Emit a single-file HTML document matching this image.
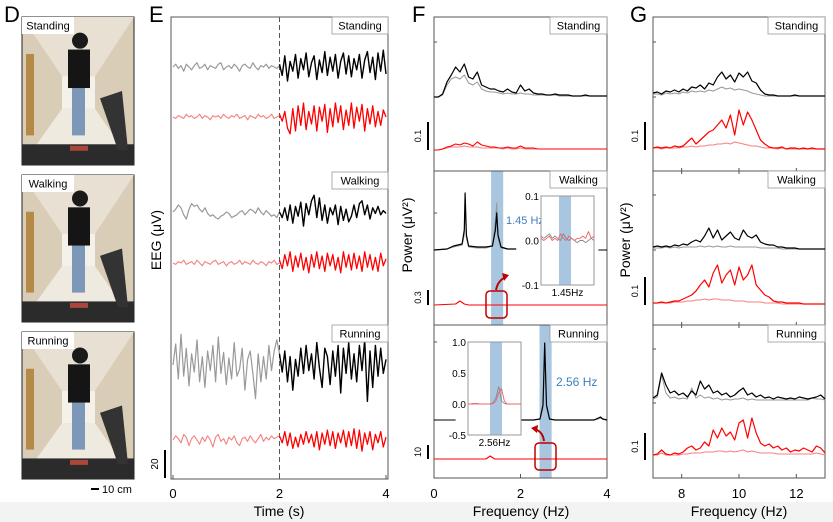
<!DOCTYPE html>
<html><head><meta charset="utf-8">
<style>
body{margin:0;background:#fff;width:833px;height:522px;overflow:hidden;font-family:"Liberation Sans",sans-serif}
svg{display:block}
text{font-family:"Liberation Sans",sans-serif}
</style></head>
<body>
<svg id="fig" width="833" height="522" viewBox="0 0 833 522" xmlns="http://www.w3.org/2000/svg">
<rect x="0" y="0" width="833" height="500" fill="#fff"/>
<rect x="0" y="502" width="833" height="20" fill="#f3f3f3"/>
<text x="4" y="22" font-size="22">D</text>
<text x="149" y="22" font-size="22">E</text>
<text x="412" y="22" font-size="22">F</text>
<text x="630" y="22" font-size="22">G</text>
<g id="photos"></g>
<g id="E"></g><g id="F"></g><g id="G"></g>
</svg>
<script>
// ===== Panel E data (µV), 41 samples per 2 s segment =====
const eTimes=[0,0.05,0.1,0.15,0.2,0.25,0.3,0.35,0.4,0.45,0.5,0.55,0.6,0.65,0.7,0.75,0.8,0.85,0.9,0.95,1,1.05,1.1,1.15,1.2,1.25,1.3,1.35,1.4,1.45,1.5,1.55,1.6,1.65,1.7,1.75,1.8,1.85,1.9,1.95,2];
const eStandPre=[0,2,-1,1,-3,2,0,-2,1,3,-1,0,2,-2,1,0,-1,2,3,-2,0,1,-1,2,0,-3,1,2,0,-1,3,0,-2,1,0,2,-1,1,0,-1,1];
const eStandPost=[2,-6,8,-10,4,-3,9,-8,6,-2,10,-7,3,8,-9,5,-4,11,-6,7,-3,9,-8,4,10,-5,8,-7,6,-2,9,-8,5,11,-4,7,-9,10,-3,12,-5];
const eStandRedPre=[0,-1,1,0,-1,2,0,1,-1,0,2,-1,1,0,-2,1,0,1,-1,2,0,-1,1,0,2,-1,0,1,-2,1,0,-1,2,0,1,-1,0,2,-1,0,1];
const eStandRedPost=[2,-3,4,-8,-12,6,-10,8,-6,10,-9,4,-5,8,-10,7,-3,9,-11,6,-7,10,-4,8,-9,5,-6,10,-8,7,-3,9,-10,6,-5,8,-7,4,-6,5,0];
const eWalkPre=[0,2,5,3,-2,-5,2,6,4,5,2,0,3,-1,-3,-2,-4,-5,-3,-2,0,-1,-4,-3,-2,0,1,-2,0,2,1,-1,3,0,-2,1,-1,-3,-2,-4,0];
const eWalkPost=[0,-4,3,-6,5,-8,4,-3,7,-10,6,-2,8,12,-4,10,-6,5,-8,3,-2,5,-9,4,-6,2,-7,-3,5,-4,6,8,-2,5,-5,3,-1,4,-2,1,-1];
const eWalkRedPre=[0,-1,1,0,2,-1,0,1,-1,2,0,-2,1,0,-1,1,2,-1,0,1,-2,0,1,-1,0,2,-1,1,0,-1,2,0,-1,1,0,-2,1,0,2,-1,0];
const eWalkRedPost=[2,-4,6,-2,8,-6,5,-3,7,-5,4,-7,6,-3,8,-4,5,-6,7,-2,6,-5,4,-7,8,-3,6,-5,7,-4,5,-6,8,-3,6,-5,4,-6,7,-2,3];
const eRunPre=[0,15,-10,22,-8,12,-15,8,-5,18,-12,6,-16,10,-4,14,-12,20,-6,9,-14,5,-10,16,-8,-3,12,-18,4,10,-6,-24,8,-12,6,-10,14,-4,10,18,8];
const eRunPost=[8,-5,10,-12,6,-18,4,-8,12,-6,14,-4,8,-10,16,-2,-16,12,6,-14,10,-8,14,-20,12,-6,16,-10,8,-12,14,-4,18,-26,10,-16,14,-8,12,-6,4];
const eRunRedPre=[0,3,1,-2,4,2,-4,1,3,0,-3,2,-1,3,0,-5,2,4,-1,1,-3,2,0,3,-2,-4,1,2,-1,3,0,-2,1,4,-1,2,0,3,1,2,3];
const eRunRedPost=[3,-2,6,-4,5,-6,2,-5,4,-3,6,-2,4,-5,6,-7,5,-3,7,-4,6,-6,5,-2,7,-5,6,-4,8,-6,7,-8,5,-3,6,-7,4,-2,6,-5,2];
const eTickLabels=[0,2,4];

// ===== Panel F data (a.u.) =====
const fFreqs=[0,0.1,0.2,0.3,0.4,0.5,0.6,0.7,0.8,0.9,1,1.1,1.2,1.3,1.4,1.5,1.6,1.7,1.8,1.9,2,2.1,2.2,2.3,2.4,2.5,2.6,2.7,2.8,2.9,3,3.1,3.2,3.3,3.4,3.5,3.6,3.7,3.8,3.9,4];
const fStandBlack=[0,0,3,15,22,30,25,33,20,18,25,12,10,8,8,6,5,8,5,4,12,6,8,4,3,3,2,2,3,2,2,2,1,1,1,2,1,1,1,1,1];
const fStandGray=[0,0,2,12,18,20,18,22,14,12,15,8,6,5,5,4,3,4,3,3,4,3,3,2,2,2,2,2,2,1,1,1,1,1,1,1,1,1,1,1,1];
const fStandRed=[0,0,1,3,4,6,5,7,6,4,8,5,4,3,3,2,2,3,2,2,4,2,2,2,1,1,1,1,1,1,1,1,1,1,1,1,1,1,1,1,1];
const fStandLight=[0,0,1,2,3,3,3,4,3,3,3,2,2,2,2,2,1,2,1,1,2,1,1,1,1,1,1,1,1,1,1,1,1,1,1,1,1,1,1,1,1];
const fWalkFreq=[0,0.3,0.45,0.55,0.65,0.7,0.72,0.75,0.8,1.0,1.2,1.35,1.42,1.45,1.48,1.55,1.7,1.9];
const fWalkBlack=[0,1,4,5,6,20,57,15,4,3,3,4,20,37,15,3,1,1];
const fWalkGray=[0,1,3,4,5,15,45,12,3,2,2,4,30,47,12,2,1,1];
const fWalkRedFreq=[0,0.5,0.6,0.7,0.8,1.0,4];
const fWalkRed=[0,1,4,1,0,0,0];
const fRunFreq=[2.0,2.3,2.45,2.52,2.56,2.6,2.67,2.8,3.7,3.8,3.85,3.9,4];
const fRunBlack=[0,0,1,15,77,15,1,0,0,2,3,1,0];
const fRunGray=[0,0,1,12,68,12,1,0,0,1,2,1,0];
const fRunRedFreq=[0,1.2,1.3,1.4,4];
const fRunRed=[0,0,3,0,0];
const fTickLabels=[0,2,4];
// insets
const insWalkX=[0,1,2,3,4,5,6,7,8,9,10,11,12,13,14,15,16,17,18,19];
const insWalkGray=[0.01,0.005,0.01,0.015,0.005,0.01,0.005,0.0,0.015,0.005,0.0,0.005,0.0,-0.005,0.0,0.0,-0.005,0.0,0.005,0.0];
const insWalkRed=[0.005,0.0,0.005,0.01,0.0,0.005,0.0,0.015,0.005,0.0,0.01,0.005,0.0,0.005,0.005,0.01,0.005,0.02,0.005,0.01];
const insWalkTicks=[0.1,0.0,-0.1];
const insRunX=[0,1,2,3,4,5,6,7,8,9,10,11,12,13,14,15,16,17,18,19];
const insRunGray=[0,0,0,0.01,0,0,0,0,0,0.02,0.1,0.28,0.05,0.01,0,0,0,0,0,0];
const insRunRed=[0,0,0.01,0,0,0,0,0,0,0.01,0.05,0.18,0.25,0.05,0,0,0,0,0,0];
const insRunTicks=[1.0,0.5,0.0,-0.5];

// ===== Panel G data (a.u.) =====
const gFreqs=[7,7.15,7.3,7.45,7.6,7.75,7.9,8.05,8.2,8.35,8.5,8.65,8.8,8.95,9.1,9.25,9.4,9.55,9.7,9.85,10,10.15,10.3,10.45,10.6,10.75,10.9,11.05,11.2,11.35,11.5,11.65,11.8,11.95,12.1,12.25,12.4,12.55,12.7,12.85,13];
const gStandBlack=[4,5,3,6,5,7,5,8,6,10,9,12,8,14,12,20,25,18,22,15,24,20,25,16,14,7,3,2,2,1,1,1,1,2,1,1,1,1,1,1,1];
const gStandGray=[3,3,2,4,3,4,3,5,4,6,5,6,5,7,6,8,10,8,9,7,8,7,6,4,3,2,1,1,1,1,1,1,1,1,1,1,1,1,1,1,1];
const gStandRed=[2,3,2,3,2,4,3,4,8,12,6,10,14,18,20,25,30,22,35,15,40,25,38,30,20,10,6,3,2,2,3,1,2,2,1,2,1,2,1,1,1];
const gStandLight=[2,2,1,2,2,2,2,3,3,4,3,4,4,5,5,6,6,7,6,8,7,6,5,4,4,3,2,2,2,1,2,1,1,1,1,1,1,1,1,1,1];
const gWalkBlack=[3,4,3,4,3,5,4,6,5,8,10,8,14,22,12,20,10,14,18,12,10,20,14,12,15,8,6,5,5,3,3,2,2,2,1,1,1,1,1,1,1];
const gWalkGray=[2,2,2,3,2,3,2,3,3,3,3,4,3,4,3,4,3,3,4,3,3,3,3,3,3,2,2,2,2,2,1,1,1,1,1,1,1,1,1,1,1];
const gWalkRed=[2,2,3,2,3,4,4,6,8,10,14,20,25,18,32,40,22,30,35,20,38,25,30,40,20,15,10,8,4,3,3,2,2,2,2,1,1,1,1,1,1];
const gWalkLight=[2,2,2,2,2,3,3,3,4,4,5,5,6,5,6,6,5,5,5,4,4,4,3,3,3,3,2,2,2,2,1,1,1,1,1,1,1,1,1,1,1];
const gRunBlack=[5,8,30,18,10,12,8,10,6,12,8,22,14,18,10,12,8,10,6,8,12,15,8,10,6,8,5,6,4,6,5,4,5,4,6,5,4,5,6,8,4];
const gRunGray=[4,6,28,10,5,6,4,5,4,15,5,8,5,6,4,5,3,4,3,4,4,5,3,4,3,3,3,3,3,3,3,3,3,3,3,3,3,5,4,4,3];
const gRunRed=[3,4,8,4,3,5,4,6,10,12,8,10,16,12,28,20,30,22,26,18,35,38,20,40,25,15,12,14,10,12,8,10,6,8,7,10,8,6,12,10,5];
const gRunLight=[3,3,5,3,3,3,3,4,4,5,5,5,6,6,6,7,7,6,7,6,7,8,6,7,6,5,5,5,5,4,4,4,4,4,4,4,4,4,5,4,3];
const gTickLabels=[8,10,12];

const NS='http://www.w3.org/2000/svg';
function mk(parent,tag,attrs,txt){const e=document.createElementNS(NS,tag);for(const k in attrs)e.setAttribute(k,attrs[k]);if(txt!==undefined)e.textContent=txt;parent.appendChild(e);return e;}
function line(parent,xs,ys,fx,fy,color,w,name){
  const pts=xs.map((x,i)=>fx(x).toFixed(1)+','+fy(ys[i]).toFixed(1)).join(' ');
  const p=mk(parent,'polyline',{points:pts,fill:'none',stroke:color,'stroke-width':w,'stroke-linejoin':'round'});
  
  
  return p;
}
function legendBox(parent,x,y,w,label,name){
  const g=mk(parent,'g',{});
  
  
  mk(g,'rect',{x:x,y:y,width:w,height:17,fill:'#fff',stroke:'#999','stroke-width':0.8});
  mk(g,'text',{x:x+w/2,y:y+12.5,'font-size':11,'text-anchor':'middle'},label);
}
function vtext(parent,x,y,s,size,name){
  const t=mk(parent,'text',{x:x,y:y,'font-size':size,'text-anchor':'middle',transform:`rotate(-90 ${x} ${y})`},s);
  
  
  return t;
}

// ===== Photos =====
const ph=document.getElementById('photos');
[['Standing',17,165],['Walking',175,322],['Running',332,479]].forEach(([lab,y0,y1],k)=>{
  const g=mk(ph,'g',{});
  
  
  const h=y1-y0;
  mk(g,'rect',{x:22,y:y0,width:112,height:h,fill:'#d9cdb8',stroke:'#222','stroke-width':1});
  mk(g,'polygon',{points:`22,${y0} 134,${y0} 95,${y0+h*0.4} 62,${y0+h*0.4}`,fill:'#e8e1d3'});
  mk(g,'polygon',{points:`22,${y1} 134,${y1} 95,${y0+h*0.62} 62,${y0+h*0.62}`,fill:'#efeae0'});
  mk(g,'rect',{x:62,y:y0+h*0.4,width:33,height:h*0.22,fill:'#f4f1ea'});
  mk(g,'rect',{x:26,y:y0+h*0.25,width:8,height:h*0.55,fill:'#b58a47'});
  mk(g,'rect',{x:22,y:y1-h*0.14,width:112,height:h*0.14,fill:'#2b2b2b'});
  mk(g,'polygon',{points:`100,${y0+h*0.55} 122,${y0+h*0.5} 128,${y1-h*0.1} 118,${y1-h*0.1}`,fill:'#333'});
  mk(g,'rect',{x:72,y:y0+h*0.42,width:13,height:h*0.38,fill:'#7d97b8'});
  mk(g,'rect',{x:68,y:y0+h*0.22,width:22,height:h*0.26,fill:'#151515'});
  mk(g,'circle',{cx:80,cy:y0+h*0.16,r:8,fill:'#1a1a1a'});
  mk(g,'rect',{x:70,y:y1-h*0.13,width:18,height:5,fill:'#a9473a'});
  mk(g,'rect',{x:22,y:y0,width:52,height:17,fill:'#fff'});
  mk(g,'text',{x:48,y:y0+12.5,'font-size':11,'text-anchor':'middle'},lab);
});
const sb=mk(ph,'g',{});


mk(sb,'line',{x1:91,y1:489,x2:99,y2:489,stroke:'#000','stroke-width':2});
mk(sb,'text',{x:102,y:493,'font-size':11},'10 cm');

// ===== Panel E =====
const E=document.getElementById('E');
const eX0=171,eX1=388,eTop=17,eBot=479;
const ex=t=>173+(t/4)*(386-173);
const eScale=1.4;
mk(E,'rect',{x:eX0,y:eTop,width:eX1-eX0,height:eBot-eTop,fill:'none',stroke:'#555','stroke-width':1});
const eDash=mk(E,'line',{x1:ex(2),y1:eTop,x2:ex(2),y2:eBot,stroke:'#555','stroke-width':1,'stroke-dasharray':'5,3'});


const eRows=[
 ['standing',67,117,eStandPre,eStandPost,eStandRedPre,eStandRedPost],
 ['walking',212,263,eWalkPre,eWalkPost,eWalkRedPre,eWalkRedPost],
 ['running',365,440,eRunPre,eRunPost,eRunRedPre,eRunRedPost]];
eRows.forEach(([n,b1,b2,a,b,c,d])=>{
  const fy1=v=>b1-v*eScale, fy2=v=>b2-v*eScale;
  line(E,eTimes,a,ex,fy1,'#999',1.2,'eeg-'+n+'-before');
  line(E,eTimes,b,t=>ex(t+2),fy1,'#000',1.4,'eeg-'+n+'-after');
  line(E,eTimes,c,ex,fy2,'#f58080',1.1,'eeg-'+n+'-red-before');
  line(E,eTimes,d,t=>ex(t+2),fy2,'#ff0000',1.3,'eeg-'+n+'-red-after');
});
legendBox(E,332,17,56,'Standing','e-legend-standing');
legendBox(E,332,172,56,'Walking','e-legend-walking');
legendBox(E,332,325,56,'Running','e-legend-running');
eTickLabels.forEach(v=>{
  mk(E,'line',{x1:ex(v),y1:eBot,x2:ex(v),y2:eBot-4,stroke:'#555'});
  const t=mk(E,'text',{x:ex(v),y:498,'font-size':13,'text-anchor':'middle'},String(v));
  
  
});
const eXT=mk(E,'text',{x:279,y:516,'font-size':14,'text-anchor':'middle'},'Time (s)');


vtext(E,161,240,'EEG (μV)',14,'e-y-axis-title');
mk(E,'line',{x1:165,y1:450,x2:165,y2:478,stroke:'#000','stroke-width':2});
vtext(E,158,464,'20',10,'e-scale-label');

// ===== Panel F =====
const F=document.getElementById('F');
const fx=f=>434+(f/4)*(607-434);
const fTop=17,fBot=478;
const bw=mk(F,'rect',{x:fx(1.32),y:171,width:fx(1.6)-fx(1.32),height:154,fill:'#a9c6e0'});


const br=mk(F,'rect',{x:fx(2.44),y:325,width:fx(2.72)-fx(2.44),height:153,fill:'#a9c6e0'});


mk(F,'rect',{x:434,y:fTop,width:173,height:fBot-fTop,fill:'none',stroke:'#555'});
[171,325].forEach(y=>mk(F,'line',{x1:434,y1:y,x2:607,y2:y,stroke:'#555'}));
[42,97,213,250,342,420].forEach(y=>mk(F,'line',{x1:434,y1:y,x2:437,y2:y,stroke:'#555'}));
line(F,fFreqs,fStandGray,fx,v=>97-v,'#999',1,'f-standing-gray');
line(F,fFreqs,fStandBlack,fx,v=>97-v,'#000',1.2,'f-standing-black');
line(F,fFreqs,fStandLight,fx,v=>150-v,'#f58080',1,'f-standing-lightred');
line(F,fFreqs,fStandRed,fx,v=>150-v,'#ff0000',1.1,'f-standing-red');
line(F,fWalkFreq,fWalkGray,fx,v=>250-v,'#999',1,'f-walking-gray');
line(F,fWalkFreq,fWalkBlack,fx,v=>250-v,'#000',1.2,'f-walking-black');
mk(F,'line',{x1:fx(3.8),y1:250,x2:607,y2:250,stroke:'#000'});
line(F,fWalkRedFreq,fWalkRed,fx,v=>305-v,'#ff0000',1.1,'f-walking-red');
mk(F,'line',{x1:434,y1:420,x2:fx(0.5),y2:420,stroke:'#000'});
line(F,fRunFreq,fRunGray,fx,v=>420-v,'#999',1,'f-running-gray');
line(F,fRunFreq,fRunBlack,fx,v=>420-v,'#000',1.2,'f-running-black');
line(F,fRunRedFreq,fRunRed,fx,v=>459-v,'#ff0000',1.1,'f-running-red');
legendBox(F,550,17,57,'Standing','f-legend-standing');
legendBox(F,550,171,57,'Walking','f-legend-walking');
legendBox(F,550,325,57,'Running','f-legend-running');
const t145=mk(F,'text',{x:506,y:224,'font-size':11,fill:'#3d7fc0'},'1.45 Hz');


const t256=mk(F,'text',{x:556,y:386,'font-size':12,fill:'#3d7fc0'},'2.56 Hz');


[[486,291,'walk'],[535,443,'run']].forEach(([x,y,n])=>{
  const r=mk(F,'rect',{x:x,y:y,width:21,height:27,rx:4,fill:'none',stroke:'#c00000','stroke-width':1.5});
  
  
});
mk(F,'path',{d:'M496,290 Q498,280 506,277',fill:'none',stroke:'#c00000','stroke-width':2});
mk(F,'polygon',{points:'509,275 502,273 504,281',fill:'#c00000'});
mk(F,'path',{d:'M544,441 Q543,432 535,429',fill:'none',stroke:'#c00000','stroke-width':2});
mk(F,'polygon',{points:'531,428 538,425 537,433',fill:'#c00000'});
function inset(x0,y0,w,h,ticks,vmin,vmax,band,xs,gray,red,lab,name){
  const g=mk(F,'g',{});
  
  
  mk(g,'rect',{x:x0,y:y0,width:w,height:h,fill:'#fff'});
  mk(g,'rect',{x:band[0],y:y0,width:band[1],height:h,fill:'#a9c6e0'});
  mk(g,'rect',{x:x0,y:y0,width:w,height:h,fill:'none',stroke:'#999'});
  const fy=v=>y0+h-(v-vmin)/(vmax-vmin)*h;
  const fxi=i=>x0+i/(xs.length-1)*w;
  line(g,xs,gray,fxi,fy,'#888',0.9,name+'-gray');
  line(g,xs,red,fxi,fy,'#f06060',0.9,name+'-red');
  ticks.forEach(v=>mk(g,'text',{x:x0-2,y:fy(v)+4,'font-size':10,'text-anchor':'end'},v.toFixed(1)));
  mk(g,'text',{x:x0+w/2,y:y0+h+11,'font-size':10,'text-anchor':'middle'},lab);
}
inset(541,196,53,89,insWalkTicks,-0.1,0.1,[559,12],insWalkX,insWalkGray,insWalkRed,'1.45Hz','inset-walking');
inset(468,342,53,93,insRunTicks,-0.5,1.0,[490,12],insRunX,insRunGray,insRunRed,'2.56Hz','inset-running');
fTickLabels.forEach(v=>{
  mk(F,'line',{x1:fx(v),y1:fBot,x2:fx(v),y2:fBot-4,stroke:'#555'});
  const t=mk(F,'text',{x:fx(v),y:498,'font-size':13,'text-anchor':'middle'},String(v));
  
  
});
const fXT=mk(F,'text',{x:521,y:516,'font-size':14,'text-anchor':'middle'},'Frequency (Hz)');


vtext(F,412,235,'Power (μV²)',14,'f-y-axis-title');
[[122,150,'0.1'],[290,305,'0.3'],[445,459,'10']].forEach(([a,b,l])=>{
  mk(F,'line',{x1:428,y1:a,x2:428,y2:b,stroke:'#000','stroke-width':2});
  vtext(F,421,(a+b)/2,l,9,'f-scale-label-'+l);
});

// ===== Panel G =====
const G=document.getElementById('G');
const gx=f=>653+(f-7)/6*(825-653);
mk(G,'rect',{x:653,y:17,width:172,height:461,fill:'none',stroke:'#555'});
[171,325].forEach(y=>mk(G,'line',{x1:653,y1:y,x2:825,y2:y,stroke:'#555'}));
[171,325].forEach(y=>gTickLabels.forEach(v=>mk(G,'line',{x1:gx(v),y1:y-3,x2:gx(v),y2:y+3,stroke:'#555'})));
[42,97,195,250,349,403].forEach(y=>mk(G,'line',{x1:653,y1:y,x2:656,y2:y,stroke:'#555'}));
[['standing',97,150,gStandGray,gStandBlack,gStandLight,gStandRed],
 ['walking',250,305,gWalkGray,gWalkBlack,gWalkLight,gWalkRed],
 ['running',403,458,gRunGray,gRunBlack,gRunLight,gRunRed]].forEach(([n,b1,b2,a,b,c,d])=>{
  line(G,gFreqs,a,gx,v=>b1-v,'#999',1,'g-'+n+'-gray');
  line(G,gFreqs,b,gx,v=>b1-v,'#000',1.2,'g-'+n+'-black');
  line(G,gFreqs,c,gx,v=>b2-v,'#f58080',1,'g-'+n+'-lightred');
  line(G,gFreqs,d,gx,v=>b2-v,'#ff0000',1.2,'g-'+n+'-red');
});
legendBox(G,768,17,57,'Standing','g-legend-standing');
legendBox(G,768,171,57,'Walking','g-legend-walking');
legendBox(G,768,325,57,'Running','g-legend-running');
gTickLabels.forEach(v=>{
  mk(G,'line',{x1:gx(v),y1:478,x2:gx(v),y2:474,stroke:'#555'});
  const t=mk(G,'text',{x:gx(v),y:498,'font-size':13,'text-anchor':'middle'},String(v));
  
  
});
const gXT=mk(G,'text',{x:739,y:516,'font-size':14,'text-anchor':'middle'},'Frequency (Hz)');


vtext(G,630,240,'Power (μV²)',14,'g-y-axis-title');
[[122,150],[277,305],[433,460]].forEach(([a,b],i)=>{
  mk(G,'line',{x1:645,y1:a,x2:645,y2:b,stroke:'#000','stroke-width':2});
  vtext(G,638,(a+b)/2,'0.1',9,'g-scale-label-'+i);
});
</script>
</body></html>
